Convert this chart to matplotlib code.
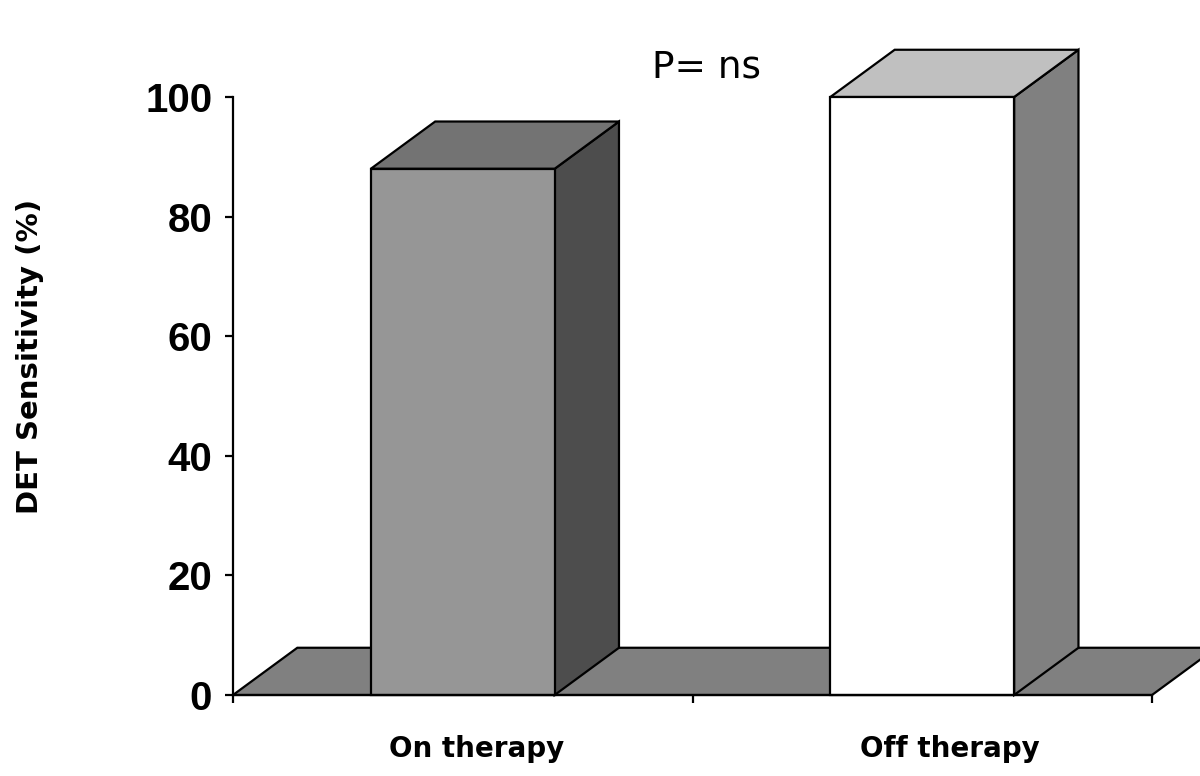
import matplotlib
matplotlib.use("Agg")
import matplotlib.pyplot as plt
from matplotlib.patches import Polygon

categories = ["On therapy", "Off therapy"]
values = [88, 100]
front_colors = ["#969696", "#ffffff"]
side_colors = ["#4d4d4d", "#808080"]
top_colors = ["#737373", "#c0c0c0"]
yticks = [0, 20, 40, 60, 80, 100]
p_text = "P= ns"
ylabel = "DET Sensitivity (%)"

DX, DY = 0.14, 7.9   # 3d depth offset in data units
W = 0.4              # bar width
LW = 1.6

fig = plt.figure(figsize=(12, 7.76), dpi=100)
ax = fig.add_axes([233 / 1200, 81 / 776, 919 / 1200, 598 / 776])
ax.set_xlim(0, len(categories))
ax.set_ylim(0, 100)

def face(pts, color, z):
    ax.add_patch(Polygon(pts, closed=True, facecolor=color, edgecolor="black",
                         lw=LW, joinstyle="miter", clip_on=False, zorder=z))

# floor
n = len(categories)
face([(0, 0), (n, 0), (n + DX, DY), (DX, DY)], "#808080", 1)

for i, v in enumerate(values):
    x0, x1 = i + 0.5 - W / 2, i + 0.5 + W / 2
    face([(x1, 0), (x1 + DX, DY), (x1 + DX, v + DY), (x1, v)], side_colors[i], 2)
    face([(x0, v), (x1, v), (x1 + DX, v + DY), (x0 + DX, v + DY)], top_colors[i], 2)
    face([(x0, 0), (x1, 0), (x1, v), (x0, v)], front_colors[i], 3)

for s in ("top", "right"):
    ax.spines[s].set_visible(False)
for s in ("left", "bottom"):
    ax.spines[s].set_linewidth(LW)
    ax.spines[s].set_zorder(4)

ax.set_yticks(yticks)
ax.set_yticklabels([str(t) for t in yticks], fontsize=29, fontweight="bold",
                   family="Liberation Sans")
ax.tick_params(axis="y", direction="out", length=6, width=LW, pad=9)
ax.set_xticks(range(n + 1))
ax.set_xticklabels([])
ax.tick_params(axis="x", direction="out", length=6, width=LW)

label_x = [0.53, 1.56]
for lx, c in zip(label_x, categories):
    ax.text(lx, -9.0, c, ha="center", va="center", fontsize=20,
            fontweight="bold", family="DejaVu Sans")

ax.text(1.03, 105, p_text, ha="center", va="center", fontsize=27,
        family="DejaVu Sans", clip_on=False)

fig.text(30 / 1200, 1 - 356 / 776, ylabel, rotation=90, ha="center", va="center",
         fontsize=21, fontweight="bold", family="DejaVu Sans")

fig.savefig("out.png", dpi=100)
